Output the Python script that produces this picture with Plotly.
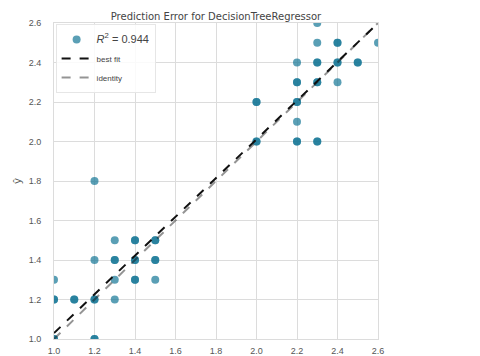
import plotly.graph_objects as go

# actual (x) vs predicted (y); count = number of overlapping samples at that spot
actual    = [1.0, 1.0, 1.0, 1.1, 1.2, 1.2, 1.3, 1.2, 1.2, 1.3, 1.3, 1.3, 1.4, 1.4, 1.4, 1.5, 1.5, 1.5,
             2.0, 2.0, 2.2, 2.2, 2.2, 2.2, 2.2, 2.3, 2.3, 2.3, 2.3, 2.3, 2.4, 2.4, 2.4, 2.5, 2.6]
predicted = [1.3, 1.2, 1.0, 1.2, 1.2, 1.0, 1.2, 1.4, 1.8, 1.5, 1.4, 1.3, 1.5, 1.4, 1.3, 1.5, 1.4, 1.3,
             2.2, 2.0, 2.4, 2.3, 2.2, 2.1, 2.0, 2.6, 2.5, 2.4, 2.3, 2.0, 2.5, 2.4, 2.3, 2.4, 2.5]
counts    = [1, 2, 2, 2, 2, 2, 1, 1, 1, 1, 2, 1, 2, 2, 2, 2, 2, 1,
             2, 2, 1, 2, 2, 1, 2, 1, 1, 2, 2, 2, 2, 2, 1, 2, 1]

r2_text = "<span style='font-size:11px'><i>R</i><sup>2</sup> = 0.944</span>"
fit_intercept = 0.049
fit_slope = 0.981
axis_min, axis_max = 1.0, 2.6
tick_vals = [1.0, 1.2, 1.4, 1.6, 1.8, 2.0, 2.2, 2.4, 2.6]

xs, ys = [], []
for a, p, c in zip(actual, predicted, counts):
    for _ in range(c):
        xs.append(a)
        ys.append(p)

FONT = "Liberation Sans"

fig = go.Figure()
fig.add_trace(go.Scatter(
    x=xs, y=ys, mode="markers", name=r2_text,
    marker=dict(size=8, color="rgba(20,118,150,0.70)", line=dict(width=0)),
))
line_x = [axis_min, axis_max]
fig.add_trace(go.Scatter(
    x=line_x, y=[fit_intercept + fit_slope * v for v in line_x], mode="lines", name="best fit",
    line=dict(color="#111111", width=2, dash="dash"),
))
fig.add_trace(go.Scatter(
    x=line_x, y=line_x, mode="lines", name="identity",
    line=dict(color="rgba(17,17,17,0.45)", width=2, dash="dash"),
))

axis_common = dict(
    range=[axis_min, axis_max], tickvals=tick_vals, tickformat=".1f",
    showgrid=True, gridcolor="#dcdcdc", gridwidth=1, zeroline=False,
    showline=True, linecolor="#dcdcdc", mirror=True, automargin=False,
    tickfont=dict(family=FONT, size=9, color="#555555"), ticks="",
)
fig.update_xaxes(**axis_common, ticklabelstandoff=3)
fig.update_yaxes(**axis_common, ticklabelstandoff=10,
                 title=dict(text="ŷ", font=dict(family=FONT, size=11, color="#555555"), standoff=4))

fig.update_layout(
    width=480, height=356,
    margin=dict(l=46, r=110, t=15, b=25),
    paper_bgcolor="white", plot_bgcolor="white",
    title=dict(text="Prediction Error for DecisionTreeRegressor", x=0.4333, xanchor="center",
               y=0.976, yanchor="middle",
               font=dict(family="DejaVu Sans", size=10, color="#444444")),
    legend=dict(x=0.005, y=0.997, xanchor="left", yanchor="top",
                bgcolor="rgba(255,255,255,0.85)", bordercolor="#e6e6e6", borderwidth=1,
                font=dict(family=FONT, size=8, color="#444444"),
                tracegroupgap=0, itemwidth=30),
    showlegend=True,
)

fig.write_html("out.html")
